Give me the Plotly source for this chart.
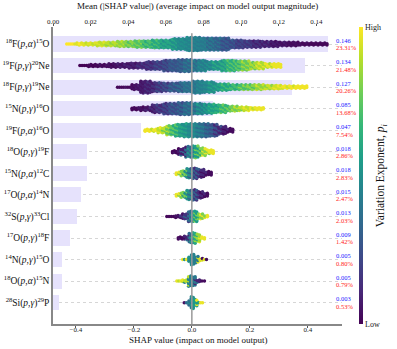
import plotly.graph_objects as go

FONT = "Liberation Serif"

# reactions, top to bottom
REACTIONS = [
    "<sup>18</sup>F(<i>p</i>,<i>α</i>)<sup>15</sup>O",
    "<sup>19</sup>F(<i>p</i>,<i>γ</i>)<sup>20</sup>Ne",
    "<sup>18</sup>F(<i>p</i>,<i>γ</i>)<sup>19</sup>Ne",
    "<sup>15</sup>N(<i>p</i>,<i>γ</i>)<sup>16</sup>O",
    "<sup>19</sup>F(<i>p</i>,<i>α</i>)<sup>16</sup>O",
    "<sup>18</sup>O(<i>p</i>,<i>γ</i>)<sup>19</sup>F",
    "<sup>15</sup>N(<i>p</i>,<i>α</i>)<sup>12</sup>C",
    "<sup>17</sup>O(<i>p</i>,<i>α</i>)<sup>14</sup>N",
    "<sup>32</sup>S(<i>p</i>,<i>γ</i>)<sup>33</sup>Cl",
    "<sup>17</sup>O(<i>p</i>,<i>γ</i>)<sup>18</sup>F",
    "<sup>14</sup>N(<i>p</i>,<i>γ</i>)<sup>15</sup>O",
    "<sup>18</sup>O(<i>p</i>,<i>α</i>)<sup>15</sup>N",
    "<sup>28</sup>Si(<i>p</i>,<i>γ</i>)<sup>29</sup>P",
]
MEAN_ABS_SHAP = [0.146, 0.134, 0.127, 0.085, 0.047, 0.018, 0.018,
                 0.015, 0.013, 0.009, 0.005, 0.005, 0.003]
SHARE_PCT = [23.31, 21.48, 20.26, 13.68, 7.54, 2.86, 2.83,
             2.47, 2.03, 1.42, 0.80, 0.79, 0.53]

TOP_TICKS = [0, 0.02, 0.04, 0.06, 0.08, 0.10, 0.12, 0.14]
BOTTOM_TICKS = [-0.4, -0.2, 0.0, 0.2, 0.4]

# beeswarm, per reaction:
# SHAP bin edges, dots stacked per column in each bin, feature level (0 = low, 1 = high)
SWARM_EDGES = [
    [-0.435, -0.40, -0.33, -0.26, -0.20, -0.14, -0.07, -0.02, 0.03, 0.08, 0.13, 0.18, 0.24, 0.30, 0.37, 0.47],
    [-0.39, -0.36, -0.29, -0.22, -0.16, -0.10, -0.05, 0.0, 0.05, 0.10, 0.15, 0.20, 0.25, 0.31],
    [-0.26, -0.21, -0.18, -0.14, -0.10, -0.05, 0.0, 0.04, 0.08, 0.13, 0.19, 0.25, 0.31, 0.40],
    [-0.21, -0.18, -0.14, -0.10, -0.05, 0.0, 0.04, 0.08, 0.12, 0.16, 0.20, 0.25],
    [-0.165, -0.12, -0.09, -0.06, -0.03, 0.0, 0.03, 0.06, 0.09, 0.12, 0.145],
    [-0.07, -0.05, -0.025, 0.0, 0.025, 0.05, 0.077],
    [-0.058, -0.04, -0.02, 0.0, 0.02, 0.045, 0.071],
    [-0.058, -0.04, -0.02, 0.0, 0.02, 0.04, 0.058],
    [-0.09, -0.06, -0.035, -0.015, 0.0, 0.02, 0.04, 0.058],
    [-0.05, -0.03, -0.012, 0.0, 0.015, 0.03, 0.048],
    [-0.035, -0.015, -0.005, 0.01, 0.025, 0.04, 0.054],
    [-0.055, -0.035, -0.015, 0.0, 0.015, 0.03, 0.048],
    [-0.03, -0.015, -0.005, 0.008, 0.02, 0.04],
]
SWARM_STACK = [
    [1, 2, 3, 4, 5, 6, 8, 10, 9, 9, 6, 5, 4, 3, 2],
    [1, 2, 3, 4, 6, 8, 9, 8, 6, 8, 7, 5, 3],
    [1, 4, 9, 7, 6, 7, 9, 8, 5, 4, 4, 3, 2],
    [2, 3, 6, 8, 9, 8, 7, 6, 4, 3, 2],
    [2, 4, 7, 9, 10, 10, 10, 9, 6, 3],
    [2, 5, 8, 9, 6, 3],
    [2, 4, 7, 8, 6, 3],
    [2, 4, 7, 8, 5, 3],
    [1, 2, 4, 8, 8, 4, 2],
    [2, 3, 7, 8, 6, 2],
    [1, 4, 8, 5, 2, 1],
    [1, 2, 8, 7, 2, 1],
    [1, 4, 9, 5, 1],
]
SWARM_LEVEL = [
    [1.0, 0.95, 0.9, 0.82, 0.72, 0.6, 0.5, 0.45, 0.4, 0.3, 0.22, 0.15, 0.08, 0.04, 0.02],
    [0.0, 0.02, 0.05, 0.1, 0.17, 0.25, 0.32, 0.42, 0.5, 0.62, 0.75, 0.87, 0.97],
    [0.02, 0.05, 0.08, 0.15, 0.25, 0.35, 0.42, 0.48, 0.58, 0.7, 0.82, 0.92, 0.98],
    [0.02, 0.05, 0.12, 0.22, 0.32, 0.42, 0.55, 0.65, 0.78, 0.9, 0.97],
    [0.98, 0.9, 0.75, 0.6, 0.5, 0.45, 0.35, 0.25, 0.1, 0.03],
    [0.02, 0.08, 0.35, 0.55, 0.8, 0.97],
    [0.97, 0.8, 0.5, 0.3, 0.12, 0.03],
    [0.97, 0.8, 0.5, 0.3, 0.12, 0.03],
    [0.02, 0.05, 0.15, 0.35, 0.55, 0.8, 0.97],
    [0.02, 0.1, 0.35, 0.6, 0.85, 0.97],
    [0.97, 0.5, 0.45, 0.4, 0.95, 0.03],
    [0.97, 0.9, 0.45, 0.4, 0.1, 0.03],
    [0.03, 0.35, 0.5, 0.55, 0.97],
]

n_rows = len(REACTIONS)
rows = [n_rows - 1 - i for i in range(n_rows)]

# lay the swarm dots out column by column; every third dot borrows the
# neighbouring bin's level so the colour bands blend like the original
COL_STEP = 0.0075
DY = 0.064
xs, ys, cs = [], [], []
for i in range(n_rows):
    edges = SWARM_EDGES[i]
    levels = SWARM_LEVEL[i]
    col = 0
    for b in range(len(edges) - 1):
        lo, hi = edges[b], edges[b + 1]
        ncols = max(1, round((hi - lo) / COL_STEP))
        step = (hi - lo) / ncols
        n = SWARM_STACK[i][b]
        prev_lv = levels[max(b - 1, 0)]
        next_lv = levels[min(b + 1, len(levels) - 1)]
        for c in range(ncols):
            x = lo + (c + 0.5) * step
            shift = (0.25 * DY if col % 2 else -0.25 * DY) if n > 1 else 0
            for k in range(n):
                xs.append(x)
                ys.append(rows[i] + (k - (n - 1) / 2) * DY + shift)
                mix = (k + col) % 3
                if mix == 1 and c >= ncols // 2:
                    cs.append(next_lv)
                elif mix == 1:
                    cs.append(prev_lv)
                else:
                    cs.append(levels[b])
            col += 1

fig = go.Figure()

fig.add_trace(go.Bar(
    x=MEAN_ABS_SHAP, y=rows, orientation="h", width=0.7,
    marker=dict(color="rgb(230,226,252)", line_width=0),
    xaxis="x", yaxis="y", showlegend=False, hoverinfo="skip",
))

fig.add_trace(go.Scatter(
    x=xs, y=ys, mode="markers", xaxis="x2", yaxis="y", showlegend=False,
    marker=dict(
        size=3.5, color=cs, colorscale="Viridis", cmin=0, cmax=1, line_width=0,
        showscale=True,
        colorbar=dict(
            x=1.059, xanchor="left", y=0, yanchor="bottom", xpad=0, ypad=0,
            thickness=4, len=1.0, lenmode="fraction", outlinewidth=0,
            tickvals=[0, 1], ticktext=["Low", "High"], ticks="",
            tickfont=dict(family=FONT, size=8, color="#222"),
        ),
    ),
))

# value / share labels at the right
for i in range(n_rows):
    fig.add_annotation(x=0.972, xref="paper", y=rows[i] + 0.175, yref="y",
                       text=f"{MEAN_ABS_SHAP[i]:.3f}", showarrow=False, xanchor="left",
                       font=dict(family=FONT, size=6.5, color="#2020ff"))
    fig.add_annotation(x=0.972, xref="paper", y=rows[i] - 0.175, yref="y",
                       text=f"{SHARE_PCT[i]:.2f}%", showarrow=False, xanchor="left",
                       font=dict(family=FONT, size=6.5, color="#ff2020"))

# axis titles and colour bar title
fig.add_annotation(x=0.5, xref="paper", y=1.0, yref="paper", yanchor="middle", yshift=21,
                   text="Mean (|SHAP value|) (average impact on model output magnitude)",
                   showarrow=False, font=dict(family=FONT, size=9, color="#111"))
fig.add_annotation(x=0.5, xref="paper", y=0.0, yref="paper", yanchor="middle", yshift=-16,
                   text="SHAP value (impact on model output)",
                   showarrow=False, font=dict(family=FONT, size=9, color="#111"))
fig.add_annotation(x=1.165, xref="paper", y=0.5, yref="paper", textangle=-90,
                   text="Variation Exponent, <i>p<sub>i</sub></i>", showarrow=False,
                   font=dict(family=FONT, size=11.5, color="#111"))

fig.add_shape(type="line", xref="x2", yref="y", x0=0, x1=0, y0=-0.99, y1=12.5,
              line=dict(color="#999", width=1.5), layer="above")

fig.update_layout(
    width=397, height=349,
    margin=dict(l=53, r=55, t=27, b=25, autoexpand=False),
    plot_bgcolor="white", paper_bgcolor="white",
    font=dict(family=FONT, color="#222"),
    bargap=0,
    xaxis=dict(
        side="top", range=[0, 0.1536], tickvals=TOP_TICKS,
        tickformat=".2f", ticks="outside", ticklen=2, tickcolor="#555",
        ticklabelstandoff=-3,
        showgrid=False, zeroline=False, showline=False, automargin=False,
        tickfont=dict(size=7),
    ),
    xaxis2=dict(
        overlaying="x", side="bottom", range=[-0.479, 0.518],
        tickvals=BOTTOM_TICKS, tickformat=".1f",
        ticks="outside", ticklen=2, tickcolor="#555",
        ticklabelstandoff=-4,
        showline=True, linecolor="#888", linewidth=1.5,
        showgrid=False, zeroline=False, automargin=False,
        tickfont=dict(size=7),
    ),
    yaxis=dict(
        range=[-0.99, 12.79], tickvals=rows, ticktext=REACTIONS, ticks="",
        showgrid=True, gridcolor="#d6d6d6", griddash="dot", gridwidth=1,
        showline=True, linecolor="#888", linewidth=1.5, zeroline=False,
        automargin=False, tickfont=dict(size=9.5, color="#111"),
    ),
)

# drop the browser's default body margin so the figure sits at the page corner
fig.write_html("out.html", config={"displayModeBar": False},
               post_script="document.body.style.margin = '0';")
